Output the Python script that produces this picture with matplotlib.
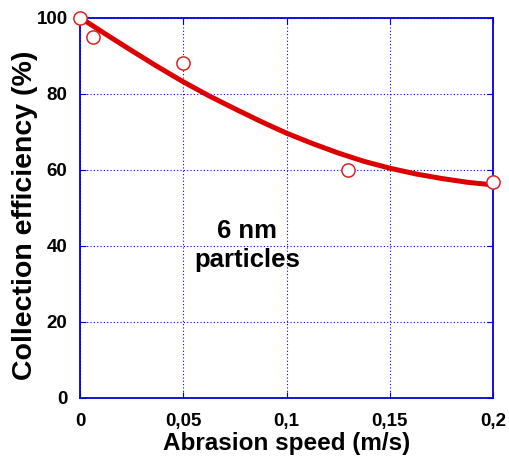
import matplotlib.pyplot as plt

plt.rcParams['font.family'] = ['Liberation Sans', 'DejaVu Sans']
plt.rcParams['font.weight'] = 'bold'

# measured points
speed = [0, 0.0064, 0.05, 0.13, 0.2]
efficiency = [100, 94.8, 88.0, 59.9, 56.8]

# fitted curve
fit_x = [0, 0.0125, 0.025, 0.0375, 0.05, 0.0625, 0.075, 0.0875, 0.1,
         0.1125, 0.125, 0.1375, 0.15, 0.1625, 0.175, 0.1875, 0.2]
fit_y = [100, 95.6, 91.3, 87.1, 83.1, 79.4, 76.0, 72.7, 69.6,
         66.9, 64.4, 62.2, 60.4, 58.9, 57.7, 56.7, 56.0]

xticks = [0, 0.05, 0.1, 0.15, 0.2]
xticklabels = ['0', '0,05', '0,1', '0,15', '0,2']
yticks = [0, 20, 40, 60, 80, 100]

fig = plt.figure(figsize=(5.09, 4.59), dpi=100)
ax = fig.add_axes([80 / 509, 1 - 398 / 459, 413 / 509, 380.5 / 459])

ax.plot(fit_x, fit_y, color='#dd0000', linewidth=3.6, solid_capstyle='butt', zorder=3)
ax.plot(speed, efficiency, 'o', markersize=9.5, markerfacecolor='white',
        markeredgecolor='#dd2222', markeredgewidth=1.1, zorder=4, clip_on=False)

ax.set_xlim(0, 0.2)
ax.set_ylim(0, 100)
ax.set_xticks(xticks)
ax.set_xticklabels(xticklabels)
ax.set_yticks(yticks)
ax.grid(True, color='#0000ee', linestyle=(0, (1, 2)), linewidth=0.8)
for s in ax.spines.values():
    s.set_color('#0000dd')
    s.set_linewidth(1.3)
ax.tick_params(direction='in', length=4, color='#0000dd', top=True, right=True,
               labelsize=13.5)
ax.tick_params(axis='x', pad=11)
ax.tick_params(axis='y', pad=9)
for lab in ax.get_xticklabels() + ax.get_yticklabels():
    lab.set_fontweight('bold')

ax.set_xlabel('Abrasion speed (m/s)', fontsize=17.5, fontweight='bold')
ax.xaxis.set_label_coords((286.5 - 80) / 413, (398 - 450) / 380.5)
ax.xaxis.label.set_va('baseline')
ax.set_ylabel('Collection efficiency (%)', fontsize=20.5, fontweight='bold')
ax.yaxis.set_label_coords((24.5 - 80) / 413, (398 - 215) / 380.5)
ax.yaxis.label.set_va('center')

ax.text(0.0808, 42.0, '6 nm', fontsize=18.5, fontweight='bold',
        ha='center', va='baseline')
ax.text(0.0808, 34.5, 'particles', fontsize=18.5, fontweight='bold',
        ha='center', va='baseline')

fig.savefig('out.png', dpi=100)
